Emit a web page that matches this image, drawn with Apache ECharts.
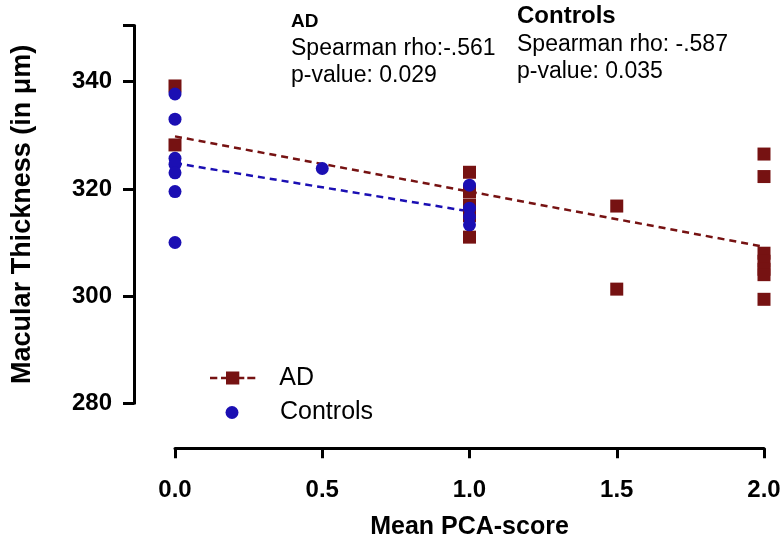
<!DOCTYPE html>
<html>
<head>
<meta charset="utf-8">
<script src="https://cdn.jsdelivr.net/npm/echarts@6/dist/echarts.min.js"></script>
<style>
html,body{margin:0;padding:0;background:#fff;}
#chart{width:784px;height:537px;}
</style>
</head>
<body>
<div id="chart"></div>
<script>
// ---- data ----
var adX = [0, 0, 1, 1, 1, 1, 1, 1.5, 1.5, 2, 2, 2, 2, 2, 2, 2];
var adY = [339.2, 328.2, 323.1, 319.5, 317.0, 315.0, 311.0, 316.8, 301.3, 326.5, 322.3, 308.0, 306.5, 305.0, 304.0, 299.4];
var ctrlX = [0, 0, 0, 0, 0, 0, 0, 0.5, 1, 1, 1, 1];
var ctrlY = [337.7, 333.0, 325.7, 324.6, 323.0, 319.5, 310.0, 323.8, 320.7, 316.4, 314.8, 313.3];
var adFitX = [0, 2];
var adFitY = [329.8, 309.2];
var ctrlFitX = [0, 1];
var ctrlFitY = [324.8, 315.8];
var xTicks = [0, 0.5, 1, 1.5, 2];
var yTicks = [280, 300, 320, 340];
var seriesNames = ['AD', 'Controls'];
var adStats = ['AD', 'Spearman rho:-.561', 'p-value: 0.029'];
var ctrlStats = ['Controls', 'Spearman rho: -.587', 'p-value: 0.035'];

var AD_COLOR = '#761212';
var CTRL_COLOR = '#1b0fb3';

function zip(xs, ys) { return xs.map(function (x, i) { return [x, ys[i]]; }); }

var chart = echarts.init(document.getElementById('chart'), null, {renderer: 'canvas'});
var font = "'Liberation Sans', Arial, sans-serif";

function legendCfg(name, icon, left, width, top, pad) {
  return {
    data: [{name: name, icon: icon}],
    left: left, top: top, orient: 'vertical', padding: 0, itemWidth: width, itemHeight: 13,
    formatter: function (n) { return '{t|' + n + '}'; },
    textStyle: {color: '#000', fontSize: 25, fontFamily: font,
      rich: {t: {color: '#000', fontSize: 25, fontFamily: font, padding: [0, 0, 0, pad]}}},
    selectedMode: false
  };
}

var option = {
  backgroundColor: '#ffffff',
  animation: false,
  grid: {left: 175, right: 20, top: 25.4, bottom: 133.7, containLabel: false, outerBoundsMode: 'none'},
  xAxis: {
    type: 'value', min: 0, max: 2, interval: 0.5, offset: 45,
    axisLine: {show: true, onZero: false, lineStyle: {color: '#000', width: 3}},
    axisTick: {show: true, length: 10, lineStyle: {color: '#000', width: 3}},
    splitLine: {show: false},
    axisLabel: {
      margin: 30, color: '#000', fontSize: 24, fontWeight: 'bold', fontFamily: font,
      formatter: function (v) { return xTicks.indexOf(v) >= 0 ? v.toFixed(1) : ''; }
    },
    name: 'Mean PCA-score', nameLocation: 'middle', nameGap: 66,
    nameTextStyle: {color: '#000', fontSize: 25, fontWeight: 'bold', fontFamily: font}
  },
  yAxis: {
    type: 'value', min: 280, max: 350.5, interval: 20, offset: 41,
    axisLine: {show: true, onZero: false, lineStyle: {color: '#000', width: 3}},
    axisTick: {show: true, length: 11, lineStyle: {color: '#000', width: 3}},
    splitLine: {show: false},
    axisLabel: {
      margin: 22, color: '#000', fontSize: 24, fontWeight: 'bold', fontFamily: font,
      formatter: function (v) { return yTicks.indexOf(v) >= 0 ? String(v) : ''; }
    },
    name: 'Macular Thickness (in \u03bcm)', nameLocation: 'middle', nameGap: 98, nameRotate: 90,
    nameTextStyle: {color: '#000', fontSize: 27, fontWeight: 'bold', fontFamily: font}
  },
  legend: [
    legendCfg(seriesNames[0], 'path://M0,5.3h7.3v2.5h-7.3z M11,5.3h5v2.5h-5z M16,0h13.3v13h-13.3z M29.3,5.3h5v2.5h-5z M37.3,5.3h8v2.5h-8z', 210, 45.3, 365.5, 19),
    legendCfg(seriesNames[1], 'circle', 225.5, 13, 400, 36.5)
  ],
  graphic: [
    {type: 'text', left: 291, top: 12, style: {text: adStats[0], fill: '#000', font: 'bold 19px ' + font}},
    {type: 'text', left: 291, top: 37, style: {text: adStats[1], fill: '#000', font: '23px ' + font}},
    {type: 'text', left: 291, top: 64, style: {text: adStats[2], fill: '#000', font: '23px ' + font}},
    {type: 'text', left: 517, top: 4, style: {text: ctrlStats[0], fill: '#000', font: 'bold 24px ' + font}},
    {type: 'text', left: 517, top: 33, style: {text: ctrlStats[1], fill: '#000', font: '23px ' + font}},
    {type: 'text', left: 517, top: 60, style: {text: ctrlStats[2], fill: '#000', font: '23px ' + font}}
  ],
  series: [
    {
      name: 'AD fit', type: 'line', data: zip(adFitX, adFitY), symbol: 'none', silent: true,
      lineStyle: {color: AD_COLOR, width: 2.5, type: [7, 5]}, z: 1
    },
    {
      name: 'Controls fit', type: 'line', data: zip(ctrlFitX, ctrlFitY), symbol: 'none', silent: true,
      lineStyle: {color: CTRL_COLOR, width: 2.5, type: [7, 5]}, z: 1
    },
    {
      name: seriesNames[0], type: 'scatter', data: zip(adX, adY), symbol: 'rect', symbolSize: 13,
      itemStyle: {color: AD_COLOR, opacity: 1}, clip: false, z: 2
    },
    {
      name: seriesNames[1], type: 'scatter', data: zip(ctrlX, ctrlY), symbol: 'circle', symbolSize: 13,
      itemStyle: {color: CTRL_COLOR, opacity: 1}, clip: false, z: 3
    }
  ]
};
chart.setOption(option);
</script>
</body>
</html>
